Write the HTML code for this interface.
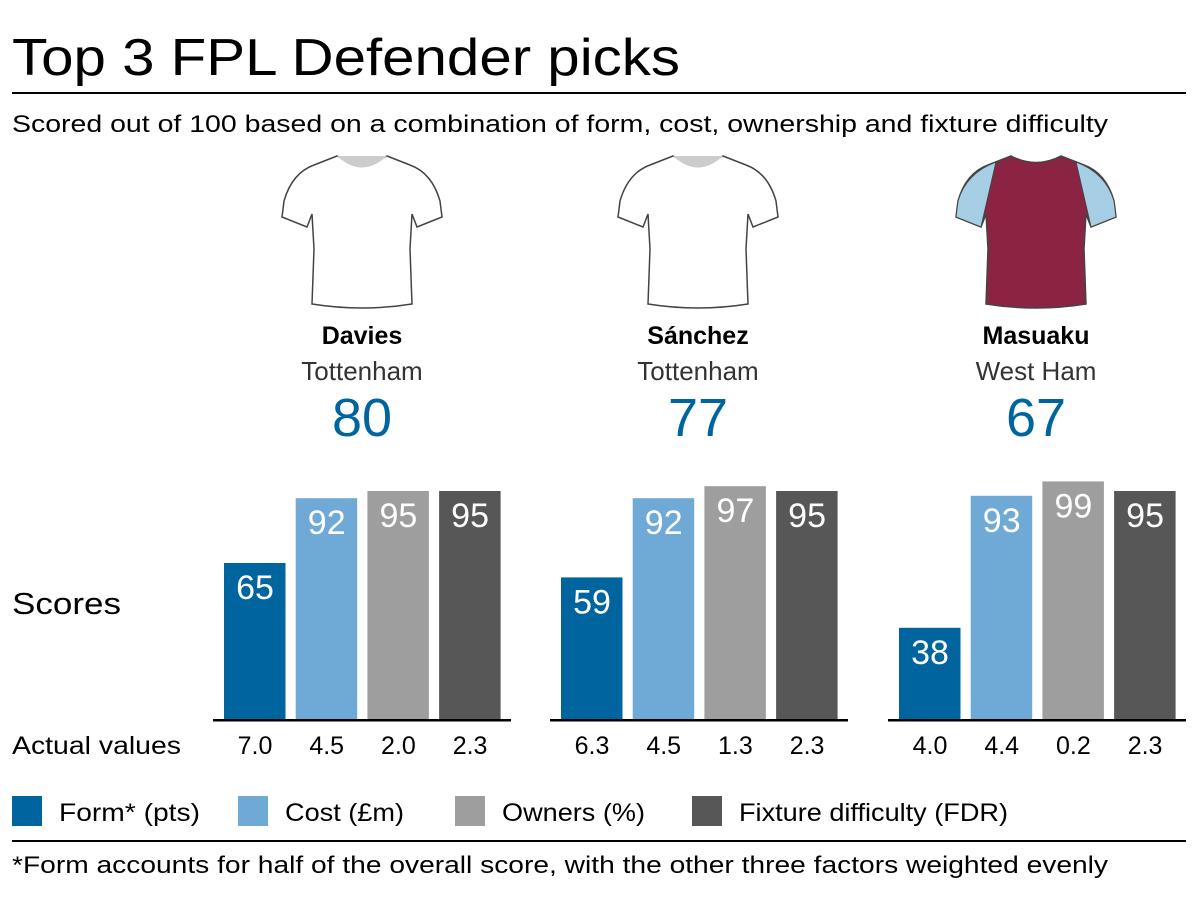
<!DOCTYPE html>
<html><head><meta charset="utf-8"><style>
body{margin:0;width:1200px;height:900px;background:#fff;font-family:"Liberation Sans",sans-serif;overflow:hidden}
svg{position:absolute;left:0;top:0}
</style></head><body>
<svg width="1200" height="900">
<defs>
<path id="shirt" d="M-25,-53 Q0,-40 25,-53 L48,-44 Q70,-36 78,-8 L80,8 L55,18 L50,5 L48,40 L50,95 Q0,103 -50,95 L-48,40 L-50,5 L-55,18 L-80,8 L-78,-8 Q-70,-36 -48,-44 Z"/>
</defs>
<text x="12" y="75" font-size="52" textLength="668" lengthAdjust="spacingAndGlyphs">Top 3 FPL Defender picks</text>
<rect x="12" y="92" width="1174" height="2" fill="#000"/>
<text x="12" y="132" font-size="24" textLength="1096" lengthAdjust="spacingAndGlyphs">Scored out of 100 based on a combination of form, cost, ownership and fixture difficulty</text>
<text x="12" y="614" font-size="31" textLength="109" lengthAdjust="spacingAndGlyphs">Scores</text>
<text x="12" y="754" font-size="25" textLength="169" lengthAdjust="spacingAndGlyphs">Actual values</text>
<g id="groups"></g>
<g font-size="25">
<rect x="12" y="796" width="30" height="30" fill="#00659e"/><text x="59" y="821" textLength="141" lengthAdjust="spacingAndGlyphs">Form* (pts)</text>
<rect x="238" y="796" width="30" height="30" fill="#6faad7"/><text x="285" y="821" textLength="119" lengthAdjust="spacingAndGlyphs">Cost (£m)</text>
<rect x="455" y="796" width="30" height="30" fill="#9e9e9e"/><text x="502" y="821" textLength="143" lengthAdjust="spacingAndGlyphs">Owners (%)</text>
<rect x="692" y="796" width="30" height="30" fill="#575757"/><text x="739" y="821" textLength="269" lengthAdjust="spacingAndGlyphs">Fixture difficulty (FDR)</text>
</g>
<rect x="12" y="840" width="1174" height="2" fill="#000"/>
<text x="12" y="873" font-size="24" textLength="1096" lengthAdjust="spacingAndGlyphs">*Form accounts for half of the overall score, with the other three factors weighted evenly</text>
</svg>
<script>
const players=["Davies","Sánchez","Masuaku"];
const teams=["Tottenham","Tottenham","West Ham"];
const totals=[80,77,67];
const formScores=[65,59,38];
const costScores=[92,92,93];
const ownerScores=[95,97,99];
const fdrScores=[95,95,95];
const formActual=["7.0","6.3","4.0"];
const costActual=["4.5","4.5","4.4"];
const ownerActual=["2.0","1.3","0.2"];
const fdrActual=["2.3","2.3","2.3"];
const colors=["#00659e","#6faad7","#9e9e9e","#575757"];
const NS="http://www.w3.org/2000/svg";
const g=document.getElementById('groups');
const base=719, scale=2.4;
const y=v=>base-v*scale;
function mk(tag,attrs,parent){const e=document.createElementNS(NS,tag);for(const k in attrs)e.setAttribute(k,attrs[k]);parent.appendChild(e);return e;}
const axisStart=[213,550,888];
players.forEach((p,i)=>{
  const ax=axisStart[i], cx=[362,698,1036][i], sy=209;
  const grp=mk('g',{},g);
  
  
  const west=teams[i]==="West Ham";
  const sh=mk('use',{href:'#shirt',transform:`translate(${cx},${sy})`,fill:west?'#8b2343':'#fff',stroke:'#444','stroke-width':1.5},grp);
  
  
  if(west){
    const sl1=mk('path',{d:`M${cx+40},${sy-47} Q${cx+70},${sy-36} ${cx+78},${sy-8} L${cx+80},${sy+8} L${cx+55},${sy+18} Z`,fill:'#a6cfe6',stroke:'#444'},grp);
    
    
    const sl2=mk('path',{d:`M${cx-40},${sy-47} Q${cx-70},${sy-36} ${cx-78},${sy-8} L${cx-80},${sy+8} L${cx-55},${sy+18} Z`,fill:'#a6cfe6',stroke:'#444'},grp);
    
    
  } else {
    const col=mk('path',{d:`M${cx-25},${sy-53} Q${cx},${sy-30} ${cx+25},${sy-53} Z`,fill:'#ccc'},grp);
    
    
  }
  const n=mk('text',{x:cx,y:344,'text-anchor':'middle','font-size':25,'font-weight':'bold'},grp);n.textContent=p;
  
  
  const t=mk('text',{x:cx,y:380,'text-anchor':'middle','font-size':26,fill:'#333'},grp);t.textContent=teams[i];
  
  
  const tot=mk('text',{x:cx,y:436,'text-anchor':'middle','font-size':54,fill:'#00659e'},grp);tot.textContent=totals[i];
  
  
  const vals=[formScores[i],costScores[i],ownerScores[i],fdrScores[i]];
  const acts=[formActual[i],costActual[i],ownerActual[i],fdrActual[i]];
  const keys=['form','cost','owners','fdr'];
  vals.forEach((v,j)=>{
    const bx=ax+11+j*71.7;
    const r=mk('rect',{x:bx,y:y(v),width:61.5,height:base-y(v),fill:colors[j]},grp);
    
    
    const l=mk('text',{x:bx+31,y:y(v)+36,'text-anchor':'middle','font-size':34,fill:'#fff'},grp);l.textContent=v;
    
    
    const a=mk('text',{x:bx+31,y:754,'text-anchor':'middle','font-size':25},grp);a.textContent=acts[j];
    
    
  });
  const line=mk('rect',{x:ax,y:base,width:298,height:2.5,fill:'#000'},grp);
  
  
});
</script>
</body></html>
